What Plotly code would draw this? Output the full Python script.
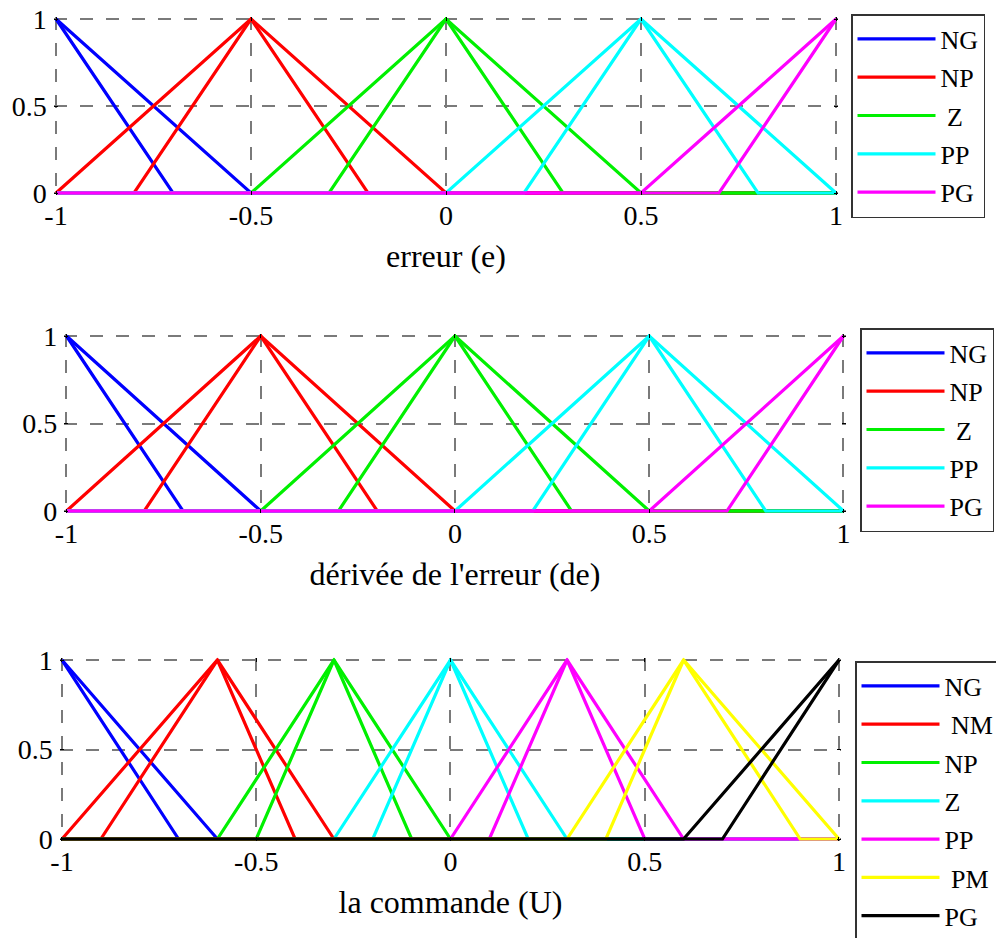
import plotly.graph_objects as go

# Membership functions (interval type-2 style: wide upper + narrow lower triangle)
# Error e and its derivative de share the same five-set partition.
e_labels = ["NG", "NP", "\u00a0Z", "PP", "PG"]
e_peaks = [-1.0, -0.5, 0.0, 0.5, 1.0]
e_upper_left = [-1.5, -1.0, -0.5, 0.0, 0.5]
e_upper_right = [-0.5, 0.0, 0.5, 1.0, 1.5]
e_lower_left = [-1.3, -0.8, -0.3, 0.2, 0.7]
e_lower_right = [-0.7, -0.2, 0.3, 0.8, 1.3]

de_labels = ["NG", "NP", "\u00a0Z", "PP", "PG"]
de_peaks = [-1.0, -0.5, 0.0, 0.5, 1.0]
de_upper_left = [-1.5, -1.0, -0.5, 0.0, 0.5]
de_upper_right = [-0.5, 0.0, 0.5, 1.0, 1.5]
de_lower_left = [-1.3, -0.8, -0.3, 0.2, 0.7]
de_lower_right = [-0.7, -0.2, 0.3, 0.8, 1.3]

# Output (command U): seven sets
u_labels = ["NG", "\u00a0NM", "NP", "Z", "PP", "\u00a0PM", "PG"]
u_peaks = [-1.0, -0.6, -0.3, 0.0, 0.3, 0.6, 1.0]
u_upper_left = [-1.4, -1.0, -0.6, -0.3, 0.0, 0.3, 0.6]
u_upper_right = [-0.6, -0.3, 0.0, 0.3, 0.6, 1.0, 1.4]
u_lower_left = [-1.3, -0.9, -0.5, -0.2, 0.1, 0.4, 0.7]
u_lower_right = [-0.7, -0.4, -0.1, 0.2, 0.5, 0.9, 1.3]

colors5 = ["#0000FF", "#FF0000", "#00F000", "#00FFFF", "#FF00FF"]
colors7 = ["#0000FF", "#FF0000", "#00F000", "#00FFFF", "#FF00FF", "#FFFF00", "#000000"]

x_tick_vals = [-1, -0.5, 0, 0.5, 1]
x_tick_text = ["-1", "-0.5", "0", "0.5", "1"]
y_tick_vals = [0, 0.5, 1]
y_tick_text = ["0", "0.5", "1"]

X_MIN, X_MAX = -1.0, 1.0
FONT = "Liberation Serif"
W, H = 996, 938


def tri_value(x, a, b, c):
    if x == b:
        return 1.0
    if x < b:
        return max((x - a) / (b - a), 0.0)
    return max((c - x) / (c - b), 0.0)


def tri_curve(a, b, c):
    pts = sorted({min(max(v, X_MIN), X_MAX) for v in (X_MIN, a, b, c, X_MAX)})
    return pts, [tri_value(x, a, b, c) for x in pts]


fig = go.Figure()


def add_sets(labels, peaks, ul, ur, ll, lr, colors, axis_id, legend_id):
    xa = "x" if axis_id == 1 else f"x{axis_id}"
    ya = "y" if axis_id == 1 else f"y{axis_id}"
    for i, name in enumerate(labels):
        xu, yu = tri_curve(ul[i], peaks[i], ur[i])
        xl, yl = tri_curve(ll[i], peaks[i], lr[i])
        fig.add_trace(go.Scatter(
            x=xu + [None] + xl, y=yu + [None] + yl,
            mode="lines", name=name,
            line=dict(color=colors[i], width=3.2),
            xaxis=xa, yaxis=ya, legend=legend_id,
            legendgroup=f"{legend_id}-{i}",
            hoverinfo="skip",
        ))


add_sets(e_labels, e_peaks, e_upper_left, e_upper_right,
         e_lower_left, e_lower_right, colors5, 1, "legend")
add_sets(de_labels, de_peaks, de_upper_left, de_upper_right,
         de_lower_left, de_lower_right, colors5, 2, "legend2")
add_sets(u_labels, u_peaks, u_upper_left, u_upper_right,
         u_lower_left, u_lower_right, colors7, 3, "legend3")

XPAD, YPAD = 0.006, 0.012


def x_domain(px_lo, px_hi):
    s = (px_hi - px_lo) / 2.0
    return [(px_lo - XPAD * s) / W, (px_hi + XPAD * s) / W]


def y_domain(py_top, py_bot):
    s = py_bot - py_top
    return [1 - (py_bot + YPAD * s) / H, 1 - (py_top - YPAD * s) / H]


panels = [
    dict(px=(56, 836), py=(19, 193), title="erreur (e)"),
    dict(px=(66.5, 843.5), py=(336, 511), title="dérivée de l'erreur (de)"),
    dict(px=(62, 839), py=(660, 839), title="la commande (U)"),
]

grid_style = dict(showgrid=True, gridcolor="#7a7a7a", gridwidth=1.5, griddash="13px,13px",
                  zeroline=False, showline=False, ticks="inside", ticklen=4,
                  tickcolor="#000000", mirror="ticks", automargin=False,
                  tickfont=dict(family=FONT, size=28, color="#000000"))

layout_axes = {}
for k, p in enumerate(panels, start=1):
    sx = "" if k == 1 else str(k)
    layout_axes[f"xaxis{sx}"] = dict(
        domain=x_domain(*p["px"]), range=[X_MIN - XPAD, X_MAX + XPAD],
        tickvals=x_tick_vals, ticktext=x_tick_text, anchor=f"y{sx}",
        ticklabelstandoff=1,
        title=dict(text=p["title"], font=dict(family=FONT, size=32, color="#000000"),
                   standoff=14),
        **grid_style)
    layout_axes[f"yaxis{sx}"] = dict(
        domain=y_domain(*p["py"]), range=[-YPAD, 1 + YPAD],
        tickvals=y_tick_vals, ticktext=y_tick_text, anchor=f"x{sx}",
        ticklabelstandoff=6,
        **grid_style)

legend_common = dict(bgcolor="#FFFFFF", bordercolor="#333333", borderwidth=1.5,
                     font=dict(family=FONT, size=26, color="#000000"),
                     xanchor="left", yanchor="top", itemwidth=78,
                     tracegroupgap=1.5)

fig.update_layout(
    width=W, height=H,
    margin=dict(l=0, r=0, t=0, b=0, autoexpand=False),
    paper_bgcolor="#FFFFFF", plot_bgcolor="#FFFFFF",
    showlegend=True,
    legend=dict(x=851 / W, y=1 - 14 / H, **legend_common),
    legend2=dict(x=860 / W, y=1 - 328 / H, **legend_common),
    legend3=dict(x=855 / W, y=1 - 661 / H, **legend_common),
    **layout_axes,
)

fig.write_html("out.html")
